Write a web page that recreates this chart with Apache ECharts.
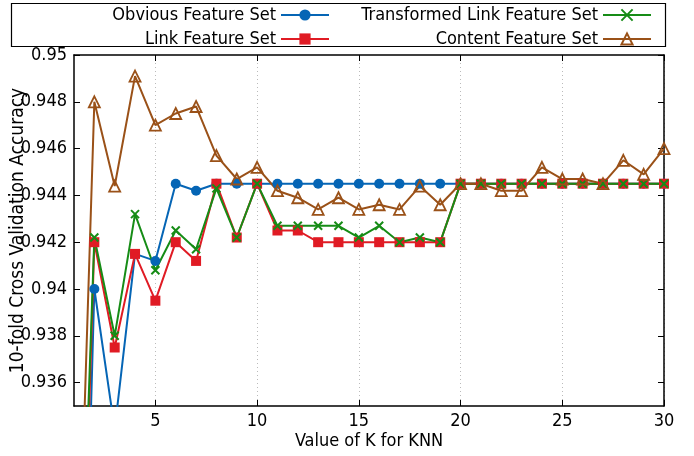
<!DOCTYPE html>
<html>
<head>
<meta charset="utf-8">
<script src="https://cdn.jsdelivr.net/npm/echarts@6/dist/echarts.min.js"></script>
<style>
  html, body { margin: 0; padding: 0; background: #fff; }
  #chart { width: 694px; height: 456px; }
</style>
</head>
<body>
<div id="chart"></div>
<script>
// K values (x axis)
const kValues = [1, 2, 3, 4, 5, 6, 7, 8, 9, 10, 11, 12, 13, 14, 15, 16, 17, 18, 19, 20, 21, 22, 23, 24, 25, 26, 27, 28, 29, 30]

// accuracy per feature set
const obvious = [0.909, 0.940, 0.934, 0.9415, 0.9412, 0.9445, 0.9442, 0.9445, 0.9445, 0.9445,
  0.9445, 0.9445, 0.9445, 0.9445, 0.9445, 0.9445, 0.9445, 0.9445, 0.9445, 0.9445,
  0.9445, 0.9445, 0.9445, 0.9445, 0.9445, 0.9445, 0.9445, 0.9445, 0.9445, 0.9445]
const link = [0.914, 0.942, 0.9375, 0.9415, 0.9395, 0.942, 0.9412, 0.9445, 0.9422, 0.9445,
  0.9425, 0.9425, 0.942, 0.942, 0.942, 0.942, 0.942, 0.942, 0.942, 0.9445,
  0.9445, 0.9445, 0.9445, 0.9445, 0.9445, 0.9445, 0.9445, 0.9445, 0.9445, 0.9445]
const transformed = [0.9175, 0.9422, 0.938, 0.9432, 0.9408, 0.9425, 0.9417, 0.9443, 0.9422, 0.9445,
  0.9427, 0.9427, 0.9427, 0.9427, 0.9422, 0.9427, 0.942, 0.9422, 0.942, 0.9445,
  0.9445, 0.9445, 0.9445, 0.9445, 0.9445, 0.9445, 0.9445, 0.9445, 0.9445, 0.9445]
const content = [0.9206, 0.948, 0.9444, 0.9491, 0.947, 0.9475, 0.9478, 0.9457, 0.9447, 0.9452,
  0.9442, 0.9439, 0.9434, 0.9439, 0.9434, 0.9436, 0.9434, 0.9444, 0.9436, 0.9445,
  0.9445, 0.9442, 0.9442, 0.9452, 0.9447, 0.9447, 0.9445, 0.9455, 0.9449, 0.946]

// tick labels
const xTicks = [5, 10, 15, 20, 25, 30]
const yTicks = [0.936, 0.938, 0.94, 0.942, 0.944, 0.946, 0.948, 0.95]

const FONT = "'DejaVu Sans Condensed', 'DejaVu Sans', sans-serif"
const toPairs = (vals) => kValues.map((k, i) => [k, vals[i]])

const chart = echarts.init(document.getElementById('chart'))

const baseAxis = {
  type: 'value',
  axisLine: { show: true, onZero: false, lineStyle: { color: '#000', width: 1.5 } },
  axisTick: { show: true, inside: true, length: 6, lineStyle: { color: '#000', width: 1 } },
  splitLine: { show: false }
}

const legendText = { fontFamily: FONT, fontSize: 18, color: '#000' }

chart.setOption({
  animation: false,
  textStyle: { fontFamily: FONT },
  grid: { left: 74, right: 30, top: 55, bottom: 50, outerBoundsMode: 'none', containLabel: false },
  graphic: [{
    type: 'rect',
    shape: { x: 11.5, y: 3.5, width: 654, height: 43 },
    style: { fill: 'none', stroke: '#000', lineWidth: 1.2 },
    silent: true
  }],
  legend: [
    {
      data: ['Obvious Feature Set', 'Link Feature Set'],
      orient: 'vertical', align: 'right',
      right: 364, top: 6, padding: 0,
      itemWidth: 48, itemHeight: 14, itemGap: 6,
      textStyle: legendText
    },
    {
      data: ['Transformed Link Feature Set', 'Content Feature Set'],
      orient: 'vertical', align: 'right',
      right: 42, top: 6, padding: 0,
      itemWidth: 48, itemHeight: 14, itemGap: 6,
      textStyle: legendText
    }
  ],
  xAxis: [
    Object.assign({}, baseAxis, {
      min: 1, max: 30,
      name: 'Value of K for KNN', nameLocation: 'middle', nameGap: 26, nameMoveOverlap: false,
      nameTextStyle: { fontFamily: FONT, fontSize: 18, color: '#000' },
      axisLabel: { customValues: xTicks, color: '#000', fontSize: 18, margin: 6 },
      axisTick: Object.assign({}, baseAxis.axisTick, { customValues: xTicks }),
      splitLine: { show: true, lineStyle: { color: '#bbb', type: [1, 3], width: 1 } }
    }),
    Object.assign({}, baseAxis, {
      position: 'top', min: 1, max: 30,
      axisLabel: { show: false },
      axisTick: Object.assign({}, baseAxis.axisTick, { customValues: xTicks })
    })
  ],
  yAxis: [
    Object.assign({}, baseAxis, {
      min: 0.935, max: 0.95,
      name: '10-fold Cross Validation Accuracy', nameLocation: 'middle', nameGap: 46, nameMoveOverlap: false,
      nameTextStyle: { fontFamily: FONT, fontSize: 19, color: '#000' },
      axisLabel: { customValues: yTicks, color: '#000', fontSize: 18, margin: 7 },
      axisTick: Object.assign({}, baseAxis.axisTick, { customValues: yTicks })
    }),
    Object.assign({}, baseAxis, {
      position: 'right', min: 0.935, max: 0.95,
      axisLabel: { show: false },
      axisTick: Object.assign({}, baseAxis.axisTick, { customValues: yTicks })
    })
  ],
  series: [
    {
      name: 'Obvious Feature Set', type: 'line', data: toPairs(obvious),
      symbol: 'circle', symbolSize: 10,
      itemStyle: { color: '#0565b5' },
      lineStyle: { color: '#0565b5', width: 2 }
    },
    {
      name: 'Link Feature Set', type: 'line', data: toPairs(link),
      symbol: 'rect', symbolSize: 10,
      itemStyle: { color: '#e01b24' },
      lineStyle: { color: '#e01b24', width: 2 }
    },
    {
      name: 'Transformed Link Feature Set', type: 'line', data: toPairs(transformed),
      symbol: 'path://M0,0L10,10M10,0L0,10', symbolSize: 8,
      itemStyle: { color: '#168c16', borderColor: '#168c16', borderWidth: 2 },
      lineStyle: { color: '#168c16', width: 2 }
    },
    {
      name: 'Content Feature Set', type: 'line', data: toPairs(content),
      symbol: 'triangle', symbolSize: 11,
      itemStyle: { color: 'rgba(0,0,0,0)', borderColor: '#9a5118', borderWidth: 1.8 },
      lineStyle: { color: '#9a5118', width: 2 }
    }
  ]
})
</script>
</body>
</html>
